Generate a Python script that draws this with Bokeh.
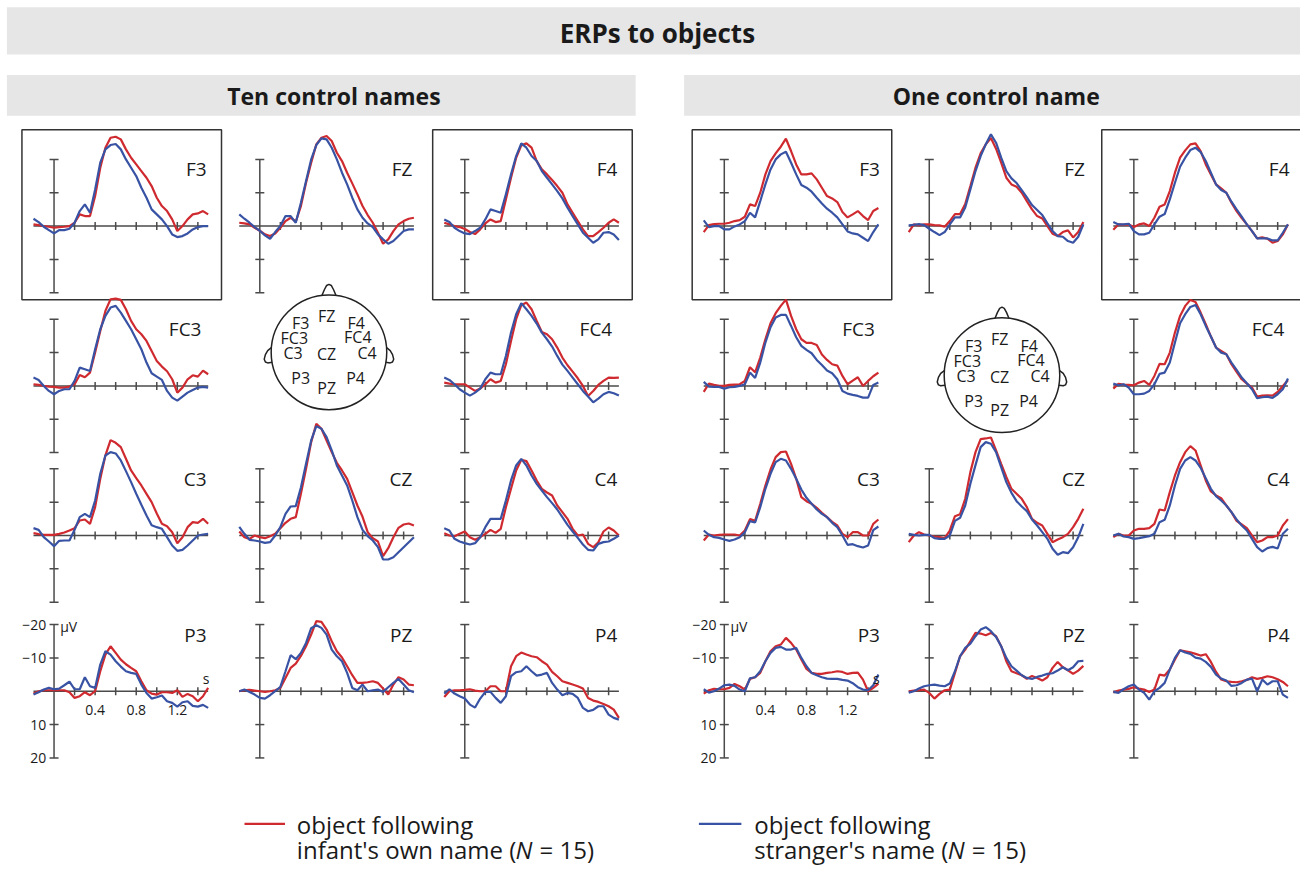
import math
from bokeh.plotting import figure
from bokeh.models import Range1d
from bokeh.core.properties import value
from bokeh.embed import file_html
from bokeh.resources import INLINE

# ---------------- data ----------------
time_s = [-0.2, -0.15, -0.1, -0.05, 0.0, 0.05, 0.1, 0.15, 0.2, 0.25, 0.3, 0.35, 0.4, 0.45,
          0.5, 0.55, 0.6, 0.65, 0.7, 0.75, 0.8, 0.85, 0.9, 0.95, 1.0, 1.05, 1.1, 1.15, 1.2,
          1.25, 1.3, 1.35, 1.4, 1.45, 1.5]

uv_ticks = [-20, -10, 10, 20]
uv_tick_labels = ["\u221220", "\u221210", "10", "20"]
s_ticks = [0.2, 0.4, 0.6, 0.8, 1.0, 1.2, 1.4]
s_label_ticks = [0.4, 0.8, 1.2]
s_tick_labels = ["0.4", "0.8", "1.2"]

electrode_grid = [["F3", "FZ", "F4"], ["FC3", None, "FC4"], ["C3", "CZ", "C4"], ["P3", "PZ", "P4"]]
framed = ["F3", "F4"]

panel_titles = ["Ten control names", "One control name"]
main_title = "ERPs to objects"

# Ten control names (µV, negative up)
ten_F3_own = [-0.5,-0.3,0,0.2,0.5,0.3,0.2,0,-1,-3.5,-3,-3,-9,-17.5,-23.5,-26.5,-26.8,-26,-23,-20.5,-18.5,-16.5,-14.5,-12,-8.5,-6,-4.5,-2,1.5,0,-2,-3.5,-3.8,-4.5,-3.5]
ten_F3_str = [-2.2,-1.2,0.2,1.2,2.2,1.2,1.2,0.8,-1,-4.5,-6.5,-4,-11,-19,-23,-24.3,-24.6,-23,-20,-17.5,-15,-11.5,-8.5,-5,-3.5,-2,0,2.5,3.3,3,2.2,1,0.3,0,0]
ten_FZ_own = [-1,-0.8,-0.5,0.5,1.4,2.5,3,2.2,0.5,-1.5,-2.5,-1.3,-6,-13,-19,-24.5,-26.5,-27,-25.5,-22,-19.5,-16,-12.8,-9.5,-6,-3.3,-1,2,5.3,4,1.5,-0.5,-1.5,-2.2,-2.5]
ten_FZ_str = [-3.5,-2.2,-1,0.3,1.4,2.8,3.8,1.8,0,-3,-3,-1,-7,-13.5,-20,-24.3,-26.3,-26,-23.5,-20,-16,-12.5,-8.5,-5,-2.5,-0.8,0.3,2.5,4,5.3,4.5,3,1.5,1,1]
ten_F4_own = [-1,-0.5,0,0.3,0.9,1.8,2.4,1,-0.8,-2,-1.2,-1.5,-8,-14.5,-20.5,-24.2,-24.8,-23.5,-19.5,-17,-15.5,-13.8,-12,-10,-6.5,-4,-1.5,1,3,3,1.8,0.5,-1,-2,-1]
ten_F4_str = [-2,-1.2,0.5,1.5,2.2,2.4,1.5,0.5,-2,-5,-4.5,-4,-9.5,-15.5,-21,-24.8,-23.5,-21,-19.5,-16.5,-14.5,-12.5,-10.5,-8.3,-5.5,-3,-0.5,2,3.5,5,4,2,1.8,2.5,4.2]
ten_FC3_own = [-0.5,-0.3,0,0.2,0.3,0.5,0.5,0.2,-0.5,-3.3,-2.6,-4,-10,-16.5,-22.5,-26,-26.2,-25.8,-23,-19.5,-17,-15.5,-13.5,-10.5,-7.5,-5.8,-4.4,-2,2,0.5,-2,-3.2,-2.8,-4.6,-3.5]
ten_FC3_str = [-2.5,-1.8,0,1.5,2.5,1.5,1,1,-1.5,-5.5,-5,-4.5,-11,-17,-21,-23.5,-24,-22,-19.5,-17,-14,-11,-7,-3.8,-2.8,-1.8,1.5,3.5,4.4,3.2,2,1.2,0.5,0.3,0.5]
ten_FC4_own = [-1,-0.7,-0.5,-0.5,-0.5,0.5,1.5,0.8,-0.5,-2,-1,-1.5,-6.5,-13.5,-20,-24.2,-25,-23,-19.5,-16.2,-15.5,-14,-11.5,-8.5,-6.2,-4.3,-2.3,0,3,1.5,-0.3,-1.5,-2.5,-2.4,-2.5]
ten_FC4_str = [-2.5,-1.8,-0.5,1,2,2.9,2,0.8,-2,-4,-3.5,-3.5,-9,-16,-21.5,-24.8,-23,-21,-18.7,-16,-14,-11.8,-9,-6.4,-4.5,-2.5,-0.5,1.5,3.2,4.9,3.8,2.5,1.8,2.2,2.9]
ten_C3_own = [-0.7,-0.4,-0.2,-0.2,-0.2,-0.5,-0.9,-1.5,-2.2,-4.5,-4.8,-3.5,-8.5,-17,-24,-28.6,-27.8,-26.5,-23,-19.5,-17.2,-15,-12.5,-10,-6.6,-3.5,-2.8,-1,2.3,0.5,-2.5,-4,-3.8,-5,-3.5]
ten_C3_str = [-2.2,-1.7,0.5,1.8,3.2,1.6,1.5,1.5,-1.7,-5.5,-6.5,-5.5,-10.5,-18.5,-24,-25,-24.6,-22.5,-19.3,-16,-12.5,-9.2,-6,-3.1,-2.5,-2,0.5,3,4.6,4.3,3,1.5,0,-0.3,-0.5]
ten_CZ_own = [-1.2,0.5,1,0,0.5,0.8,0.2,-0.5,-2.2,-3.8,-5,-5.5,-12.5,-20,-28,-33.5,-32,-28.5,-25,-21.8,-19.5,-17,-13,-9,-5.6,-1,0.8,1.8,6.2,3.8,0.5,-2.3,-3.3,-3.6,-3]
ten_CZ_str = [-2.6,-0.5,1.3,1.5,1.8,2.2,2,0,-2.5,-6.5,-8.7,-8.8,-14.4,-21.5,-28.5,-32.8,-32,-29.5,-25.5,-21,-18,-15,-10.5,-5.5,-1.7,0.2,1.5,3.5,7.2,7.2,6.5,5,3.5,2,0.5]
ten_C4_own = [-0.7,0,0.2,-0.5,-1.2,0.5,1.3,0.5,-0.5,-1.7,-0.8,-2,-8.5,-14,-19.5,-22.7,-22.3,-19.5,-16.5,-14,-12.9,-12,-9,-7,-5,-2,0,-0.3,2.5,3.5,2,-1.2,-2.4,-1.5,0]
ten_C4_str = [-2.2,-1.5,1,1.8,2.3,2.7,2.3,0.5,-2.5,-5,-5,-5,-10.5,-16.5,-21,-23,-21,-18,-15.5,-13.5,-11.5,-9.7,-7.8,-5.5,-3.2,-1.2,0.7,2.7,4.3,4.5,2.5,2,1.8,1,0]
ten_P3_own = [0.7,0,-0.3,-0.3,-0.3,-0.3,-0.3,0.3,2,1.5,0.3,1.2,0,-6,-11,-13.5,-11.5,-9.5,-8.1,-7,-6,-3,-0.3,0.7,1,0.3,0.3,0.5,-0.3,1.7,0.8,1.5,3,1.5,-1]
ten_P3_str = [1,0.3,-0.5,-1,-0.6,-0.8,-1.8,-2.9,-0.6,-0.6,-4.2,-1.5,-1,-8,-12,-11,-9,-7.4,-6,-5.5,-5.2,-2,0.5,2.2,1.8,1.3,3,3.5,4.6,3.3,3,4.4,4.6,4.1,5]
ten_PZ_own = [0,-0.3,-0.4,-0.2,0,0.2,0,-0.3,-1,-4,-7,-8.3,-10.6,-13.5,-17,-21,-20.8,-18.5,-15,-12,-10.1,-7.5,-4.8,-2.5,-2.5,-2.7,-3,-2.5,-0.8,1,-2,-4.2,-3.5,-2,-1.8]
ten_PZ_str = [0,-0.5,0.2,1,2,2.2,1.2,0,-1.3,-6,-10.8,-9.6,-11.5,-14.5,-18.9,-19.8,-19,-17,-12.5,-10.5,-9,-5.5,-1,-0.3,-2,0,-0.3,-0.5,0.2,-1.2,-2.5,-3.7,-2,-0.3,0.3]
ten_P4_own = [1.7,0,-0.3,-0.3,-0.4,-0.6,-0.2,0,0,-1.5,-1.5,0,0,-7.5,-10.5,-11.6,-11,-10.5,-10.2,-9,-8,-5.8,-4.5,-3,-2.5,-2,-1.5,-0.8,2,2.8,3.2,3.8,4.5,5.5,8]
ten_P4_str = [0.7,-0.6,0.7,1.5,2.2,4,4.9,2.2,0.2,0.2,2,3.5,1.5,-4.5,-5.7,-6,-7.5,-6,-4.7,-5,-5.5,-2.5,-0.5,1.2,0.5,0.8,2,5,6,5.6,4.5,4.5,7,8,8.5]

# One control name
one_F3_own = [1.8,-0.3,-0.6,-0.7,-0.7,-1,-1.5,-1.8,-2.8,-6.5,-6,-10,-15.5,-19.5,-21.8,-23.8,-26.2,-22.5,-18.5,-15.5,-15.5,-15.8,-14,-11.5,-9,-8.3,-7.2,-4.2,-2.6,-3.5,-4.5,-3,-1.8,-4.5,-5.4]
one_F3_str = [-1.7,0.3,0,0,1,1,0.1,-0.5,-1.5,-4,-2.6,-7.5,-12.5,-17,-20,-21.5,-22.3,-19,-15.5,-12.3,-11.5,-10.3,-8.5,-6.8,-5.2,-4,-2.6,-0.5,1.6,2.2,2.5,3.5,4.5,1.8,-0.5]
one_FZ_own = [1.8,-0.5,-0.2,-0.5,-0.5,-0.3,-0.2,0.2,-1.5,-3.6,-3.6,-6.6,-12,-17.5,-21.8,-24.5,-26.4,-23.2,-19,-14.5,-12.5,-11.8,-10,-7.5,-5,-3,-2.3,0,2.3,3,1.8,1.3,3.4,1.8,-1.2]
one_FZ_str = [-0.2,-0.4,-0.6,-0.3,0.8,1.8,2.7,1.8,-0.5,-2.6,-2.6,-5.6,-11,-16.5,-21,-24.5,-27.5,-25,-20.5,-16.5,-14.3,-12.9,-10.8,-8.6,-6.3,-4.8,-3.3,-0.8,1.5,3,3.2,4.5,5,3.2,-0.5]
one_F4_own = [1.1,-0.5,-0.4,-0.5,0.3,-0.5,-0.8,0,-2.5,-5.8,-6.5,-10.5,-16,-20.5,-22.7,-24.5,-24.8,-22.5,-18.5,-15.5,-12.5,-11.3,-10,-7,-4.5,-2.4,-0.5,1.5,3.7,3.4,3.8,5,4.5,2.5,-0.5]
one_F4_str = [-1.2,-0.5,-0.5,-0.7,1.5,2.5,2.5,2,-0.5,-2.8,-3.6,-8,-13,-17.8,-20.5,-22.8,-23.5,-22.2,-19.5,-16,-12.5,-10.8,-10,-7.3,-5,-2.8,-0.5,1.5,3.7,3.7,3.7,4.3,4.3,2,-0.5]
one_FC3_own = [1.8,-0.7,-0.3,0,0,-0.3,-0.4,-0.5,-1.5,-5.6,-4.1,-8.5,-14,-18.8,-21.8,-24,-25.9,-21,-17,-14,-12.9,-12.9,-12.3,-9.4,-7.8,-6.5,-6.1,-3,-0.5,-1.6,-2.6,0,-1.5,-2.9,-4]
one_FC3_str = [-1.2,0.2,0.3,0.3,0.8,0.4,0.3,0,-0.5,-4,-2.4,-7,-13,-17.6,-20.5,-21.3,-21.3,-18,-14.6,-12,-10.8,-9.8,-7.8,-6.3,-4.6,-3.8,-2,1.5,2.3,2.7,3,3.5,3.5,-0.3,-1]
one_FC4_own = [0.8,-0.6,-0.4,-0.3,-0.2,-1,-1.5,-0.3,-3,-6.6,-6.5,-10,-16,-21,-24,-25.8,-25.2,-22,-18.5,-14.8,-11.5,-10.5,-9.5,-6.5,-4.2,-2,-0.7,0.5,3.2,2.9,2.8,2.9,1.8,0,-1.7]
one_FC4_str = [-0.7,-0.2,-0.5,0.5,2.5,2.5,2.3,1.5,-0.5,-3.6,-4,-7,-13,-18.8,-21.5,-23.7,-24.3,-21.5,-18,-14.8,-11.5,-10,-9.5,-7,-4.8,-2.5,-0.8,1,3.7,3.4,3.2,3.6,2.5,1,-2.2]
one_C3_own = [1.5,-0.3,0,-0.2,-0.3,-0.3,-0.3,0,-1.5,-4.9,-4.4,-9.5,-15,-19.8,-23.5,-25,-25.2,-21.5,-17,-11.5,-10.3,-9.5,-8.3,-6.8,-5.5,-4.1,-3,-0.5,0.5,-1,-1,0,0,-3.5,-4.8]
one_C3_str = [-1.5,-0.2,0.5,0.7,1.2,1.6,1.2,0.5,-1,-4.3,-3.9,-8.5,-14,-18.5,-22,-23,-22.5,-20,-17,-13.8,-11.3,-9.5,-7.8,-6.5,-5.5,-3.8,-2.5,0,2.8,2.6,3.2,3.6,3,-1.6,-2.7]
one_CZ_own = [2,0,-1,-0.3,0,0.3,0.5,0.8,-1.5,-5.8,-6.4,-11,-19,-25,-28.9,-29.1,-29.4,-25.5,-21.5,-17.6,-14,-12.5,-11,-8.5,-5,-3.8,-3,-0.5,2,1.2,0.5,-0.5,-2.5,-5,-8]
one_CZ_str = [-0.5,-0.2,0,-0.2,-0.2,0.8,1,1,0,-4.4,-5.3,-9,-15.5,-21.1,-26.5,-28,-27.5,-25,-20.5,-16,-12.8,-10.3,-8.7,-7.3,-4.8,-3,-1,1,4,5.8,5,5.3,3.5,0.5,-3.5]
one_C4_own = [0.5,-0.5,0,0,-1.5,-2,-2,-2.2,-3.5,-7.8,-7.5,-13,-18,-22,-25,-26.8,-25.5,-21,-16.5,-13.2,-12,-11.2,-9,-7,-4.4,-3.3,-2.2,0,2,1.5,0.5,0.5,0,-3,-4.9]
one_C4_str = [0,-0.5,0.3,0.5,1,0.8,0.5,0.2,-0.5,-4,-4.7,-9,-15,-20,-22.5,-23.5,-22.5,-20.3,-17.2,-14,-11.8,-10.5,-9,-7,-4.8,-3,-1.5,1,3.5,4.8,3.8,3.4,3.9,-0.5,-2]
one_P3_own = [0.7,-0.3,-0.7,-0.6,-0.6,-1,-2.2,-1.5,-0.5,-3.7,-4.2,-5.5,-9,-12,-13.5,-14,-16,-14.5,-12.5,-9.5,-6.7,-5.5,-5.2,-5.2,-5.5,-5.7,-6,-5.8,-5.2,-5.5,-5.6,-3.5,0,-1,-2.3]
one_P3_str = [-0.6,0.4,0,-0.8,-1.8,-2,-1.6,-0.5,0,-3.9,-4.2,-6,-9,-11.5,-13,-13.3,-12.5,-12.5,-13,-10,-7.5,-5.5,-4.8,-4.2,-3.8,-3.7,-3.7,-3.4,-3.2,-2.4,-1.2,-0.5,-0.3,-1.8,-5]
one_PZ_own = [0,-0.2,-0.3,-0.5,0.5,2.2,0.8,-0.3,-0.5,-5.5,-10.5,-12.5,-15,-17.5,-17.3,-16.8,-17.5,-16.5,-13.5,-9,-6,-5.4,-4.8,-3.7,-4.6,-4,-3.2,-4.2,-7,-8.8,-7.2,-6.3,-5.2,-6.2,-7.6]
one_PZ_str = [0.4,0,-0.8,-1.5,-1.8,-2,-1.7,-1.5,-2.3,-6,-10.5,-13,-14.3,-16.5,-18.5,-19.2,-18,-16.3,-13.5,-10,-7.5,-6.2,-4.8,-4,-3.7,-4.3,-4.7,-5.2,-5.4,-6.2,-7.2,-6.3,-7.2,-9,-9.1]
one_P4_own = [0.4,-0.2,-0.5,-0.7,-1.2,-0.8,-0.5,0.2,-0.5,-5,-4.7,-6.5,-9.5,-12.3,-12,-11.7,-11.2,-10.7,-11.1,-8.8,-5.8,-3.5,-3,-2.8,-2.7,-3,-3.4,-4.2,-3.7,-4,-4.5,-4.2,-3.6,-2.8,-1.5]
one_P4_str = [0.2,0.5,-0.6,-1.5,-2,-0.5,0.5,2.5,0,-1,-2.5,-6.5,-10,-12.3,-11.6,-11.2,-10.1,-9.8,-8.8,-7.3,-5,-3.8,-3.2,-1.6,-1.8,-2.5,-3.5,-3.8,0,-3.5,-2,-3,-3,1,2]

# legend texts: first line, second line split around the italic "N"
legend_line1 = ["object following", "object following"]
legend_line2_pre = ["infant's own name (", "stranger's name ("]
legend_italic = ["N", "N"]
legend_line2_post = ["= 15)", "= 15)"]

head_labels = ["FZ", "F3", "F4", "FC3", "FC4", "C3", "CZ", "C4", "P3", "P4", "PZ"]
head_label_x = [-0.04, -0.49, 0.47, -0.6, 0.5, -0.62, -0.04, 0.66, -0.49, 0.46, -0.04]
head_label_y = [0.625, 0.51, 0.51, 0.255, 0.26, -0.02, -0.03, -0.02, -0.45, -0.445, -0.615]
nose_x = [-0.12, -0.08, -0.04, 0.0, 0.04, 0.08, 0.12]
nose_y = [0.993, 1.09, 1.165, 1.185, 1.165, 1.09, 0.993]
ear_x = [-0.997, -1.06, -1.1, -1.12, -1.1, -1.06, -0.985]
ear_y = [0.08, 0.03, -0.04, -0.12, -0.17, -0.185, -0.175]

ns = globals()
erp = {}
for key in ["ten", "one"]:
    erp[key] = {}
    for row in electrode_grid:
        for name in row:
            if name:
                own = ns[f"{key}_{name}_own"]
                stranger = ns[f"{key}_{name}_str"]
                assert len(own) == len(time_s), (key, name, "own", len(own))
                assert len(stranger) == len(time_s), (key, name, "str", len(stranger))
                erp[key][name] = (own, stranger)

# ---------------- layout / style ----------------
W, H = 1300, 866            # canvas size in screen px
REF_W, REF_H = 1316, 883    # layout coordinates mapped onto the canvas
PX_PER_S = 104.0
PX_PER_UV = 3.4
col_axis_px = [[54.2, 262.5, 470.0], [732.7, 940.2, 1147.3]]
row_zero_px = [230.0, 393.0, 545.5, 704.3]
head_center_px = [(332.5, 358.7), (1013.8, 382.0)]
HEAD_R = 58.5
label_t = [1.485, 1.515]

RED = "#cf2a2f"
BLUE = "#3953a4"
AXIS = "#4a4a4a"
BAR = "#e6e6e6"
INK = "#1a1a1a"
FONT = value("Open Sans")
LEGEND_SIZE = 24
# advance widths (em) of Open Sans used to butt the italic N against its neighbours
PRE_EM = [9.11, 8.06]
N_ITALIC_EM = 0.74
SPACE_EM = 0.26

p = figure(width=W, height=H, x_range=Range1d(0, REF_W), y_range=Range1d(REF_H, 0),
           output_backend="svg", toolbar_location=None, min_border=0,
           x_axis_type=None, y_axis_type=None, outline_line_color=None,
           background_fill_color="white", border_fill_color="white")
p.xgrid.visible = False
p.ygrid.visible = False

for pi in range(2):
    for c in range(3):
        X = col_axis_px[pi][c]
        p.extra_x_ranges[f"x{pi}{c}"] = Range1d((0 - X) / PX_PER_S, (REF_W - X) / PX_PER_S)
    cx, cy = head_center_px[pi]
    p.extra_x_ranges[f"hx{pi}"] = Range1d((0 - cx) / HEAD_R, (REF_W - cx) / HEAD_R)
    p.extra_y_ranges[f"hy{pi}"] = Range1d((cy - REF_H) / HEAD_R, (cy - 0) / HEAD_R)
for r in range(4):
    Y = row_zero_px[r]
    p.extra_y_ranges[f"y{r}"] = Range1d((REF_H - Y) / PX_PER_UV, (0 - Y) / PX_PER_UV)

# title bars
p.quad(left=[6.5], right=[REF_W + 5], top=[7], bottom=[55], fill_color=BAR, line_color=None)
p.quad(left=[6.5, 692], right=[643, REF_W + 5], top=[76, 76], bottom=[117.5, 117.5],
       fill_color=BAR, line_color=None)
p.text(x=[665], y=[33.5], text=[main_title], text_align="center", text_baseline="middle",
       text_font=FONT, text_font_style="bold", text_font_size="26px", text_color=INK)
p.text(x=[337.5, 1008], y=[97, 97], text=panel_titles, text_align="center", text_baseline="middle",
       text_font=FONT, text_font_style="bold", text_font_size="23px", text_color=INK)

# subplots
for pi, key in enumerate(["ten", "one"]):
    for r, row in enumerate(electrode_grid):
        for c, name in enumerate(row):
            if name is None:
                continue
            kw = dict(x_range_name=f"x{pi}{c}", y_range_name=f"y{r}")
            if name in framed:
                p.quad(left=[-0.3125], right=[1.63], top=[-28.9], bottom=[22.1],
                       fill_color=None, line_color="#333333", line_width=1.5, **kw)
            p.segment(x0=[0], y0=[min(uv_ticks)], x1=[0], y1=[max(uv_ticks)],
                      line_color=AXIS, line_width=1.5, **kw)
            p.segment(x0=[time_s[0]], y0=[0], x1=[time_s[-1]], y1=[0],
                      line_color=AXIS, line_width=1.5, **kw)
            p.scatter(x=[0] * len(uv_ticks), y=uv_ticks, marker="dash", size=9,
                      line_color=AXIS, line_width=1.5, **kw)
            p.scatter(x=s_ticks, y=[0] * len(s_ticks), marker="dash", size=8, angle=math.pi / 2,
                      line_color=AXIS, line_width=1.5, **kw)
            own, stranger = erp[key][name]
            p.line(time_s, own, line_color=RED, line_width=2.2, **kw)
            p.line(time_s, stranger, line_color=BLUE, line_width=2.2, **kw)
            lt = label_t[pi] - (0.05 if name.startswith("FC") else 0.0)
            p.text(x=[lt], y=[-17], text=[name], text_align="right", text_baseline="middle",
                   text_font=FONT, text_font_size="19px", text_color=INK, **kw)
            if r == 3 and c == 0:
                p.text(x=[-0.075] * len(uv_ticks), y=uv_ticks, text=uv_tick_labels,
                       text_align="right", text_baseline="middle", text_font=FONT,
                       text_font_size="14px", text_color=INK, **kw)
                p.text(x=[0.06], y=[-19.3], text=["\u00b5V"], text_align="left", text_baseline="middle",
                       text_font=FONT, text_font_size="14px", text_color=INK, **kw)
                p.text(x=s_label_ticks, y=[5.5] * len(s_label_ticks), text=s_tick_labels,
                       text_align="center", text_baseline="middle", text_font=FONT,
                       text_font_size="14px", text_color=INK, **kw)
                p.text(x=[1.48], y=[-3.8], text=["s"], text_align="center", text_baseline="middle",
                       text_font=FONT, text_font_size="14px", text_color=INK, **kw)

# head diagrams
for pi in range(2):
    kw = dict(x_range_name=f"hx{pi}", y_range_name=f"hy{pi}")
    p.ellipse(x=[0], y=[0], width=[2], height=[2], fill_color=None, line_color="#222222",
              line_width=1.5, **kw)
    p.line(nose_x, nose_y, line_color="#222222", line_width=1.5, **kw)
    p.line(ear_x, ear_y, line_color="#222222", line_width=1.5, **kw)
    p.line([-x for x in ear_x], ear_y, line_color="#222222", line_width=1.5, **kw)
    p.text(x=head_label_x, y=head_label_y, text=head_labels, text_align="center",
           text_baseline="middle", text_font=FONT, text_font_size="16px", text_color=INK, **kw)

# legend
legend_x0 = [247, 707]
legend_x1 = [288, 750]
legend_text_x = [300, 763]
fs = f"{LEGEND_SIZE}px"
p.segment(x0=legend_x0, y0=[839.5, 839.5], x1=legend_x1, y1=[839.5, 839.5],
          line_color=[RED, BLUE], line_width=2.2)
p.text(x=legend_text_x, y=[840, 840], text=legend_line1, text_align="left",
       text_baseline="middle", text_font=FONT, text_font_size=fs, text_color=INK)
p.text(x=legend_text_x, y=[866, 866], text=legend_line2_pre, text_align="left",
       text_baseline="middle", text_font=FONT, text_font_size=fs, text_color=INK)
off_n = [e * LEGEND_SIZE for e in PRE_EM]
p.text(x=legend_text_x, y=[866, 866], text=legend_italic, x_offset=off_n, text_align="left",
       text_baseline="middle", text_font=FONT, text_font_style="italic", text_font_size=fs,
       text_color=INK)
off_post = [o + (N_ITALIC_EM + SPACE_EM) * LEGEND_SIZE for o in off_n]
p.text(x=legend_text_x, y=[866, 866], text=legend_line2_post, x_offset=off_post, text_align="left",
       text_baseline="middle", text_font=FONT, text_font_size=fs, text_color=INK)

open("out.html", "w").write(file_html(p, INLINE, title="ERPs to objects"))
